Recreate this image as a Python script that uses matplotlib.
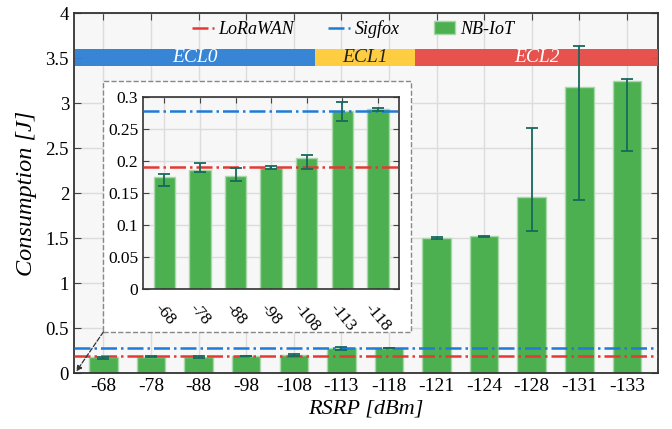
import matplotlib
matplotlib.use("Agg")
import matplotlib.pyplot as plt
from matplotlib.patches import Rectangle
from matplotlib.ticker import FormatStrFormatter
import numpy as np

plt.rcParams["font.family"] = ["Liberation Serif", "DejaVu Serif"]

rsrp = ["-68", "-78", "-88", "-98", "-108", "-113", "-118", "-121", "-124", "-128", "-131", "-133"]
nbiot = [0.175, 0.185, 0.176, 0.189, 0.204, 0.277, 0.280, 1.507, 1.52, 1.956, 3.18, 3.25]
err_low = [0.161, 0.183, 0.169, 0.187, 0.187, 0.262, 0.277, 1.497, 1.51, 1.58, 1.93, 2.47]
err_high = [0.179, 0.196, 0.188, 0.1915, 0.209, 0.292, 0.2825, 1.517, 1.53, 2.72, 3.64, 3.27]
lorawan = 0.191
sigfox = 0.278
ecl_names = ["ECL0", "ECL1", "ECL2"]
ecl_edges = [-0.6, 4.45, 6.55, 11.65]
ecl_colors = ["#2E7FD5", "#FFCB37", "#E64A45"]
ecl_text = ["white", "#222222", "white"]
n_inset = 7

green = "#4CAF50"
bar_edge = "#A8D8AA"
err_col = "#17695C"
red = "#E53935"
blue = "#1E7BD8"

fig = plt.figure(figsize=(6.72, 4.29), dpi=100)
ax = fig.add_axes([0.110, 0.130, 0.869, 0.839])
ax.set_facecolor("#F7F7F7")

x = np.arange(len(rsrp))
vals = np.array(nbiot)
yerr = [vals - np.array(err_low), np.array(err_high) - vals]

ax.axhline(lorawan, color=red, ls="-.", lw=1.8, zorder=3, label="LoRaWAN")
ax.axhline(sigfox, color=blue, ls="-.", lw=1.8, zorder=3, label="Sigfox")
ax.bar(x, vals, width=0.6, color=green, edgecolor=bar_edge, lw=1, zorder=2, label="NB-IoT")
ax.errorbar(x, vals, yerr=yerr, fmt="none", ecolor=err_col, elinewidth=1.3,
            capsize=4, capthick=1.3, zorder=6)

for i, name in enumerate(ecl_names):
    x0, x1 = ecl_edges[i], ecl_edges[i + 1]
    ax.add_patch(Rectangle((x0, 3.41), x1 - x0, 0.19, facecolor=ecl_colors[i],
                           edgecolor="none", alpha=0.95, zorder=4))
    ax.text((x0 + x1) / 2, 3.505, name, ha="center", va="center", style="italic",
            fontsize=14, color=ecl_text[i], zorder=5)

ax.set_xlim(-0.62, 11.65)
ax.set_ylim(0, 4)
ax.set_xticks(x)
ax.set_xticklabels(rsrp, fontsize=14)
ax.set_yticks(np.arange(0, 4.01, 0.5))
ax.yaxis.set_major_formatter(FormatStrFormatter("%g"))
ax.tick_params(axis="y", labelsize=13.5)
ax.tick_params(direction="in", top=True, right=True, length=5, color="#444444")
ax.grid(True, color="#DCDCDC", lw=1, zorder=0)
ax.set_axisbelow(True)
for s in ax.spines.values():
    s.set_color("#333333")
    s.set_linewidth(1.3)
ax.set_xlabel("RSRP [dBm]", fontsize=16, style="italic", labelpad=3)
ax.set_ylabel("Consumption [J]", fontsize=17.5, style="italic", labelpad=6)

leg = ax.legend(loc="center left", bbox_to_anchor=(0.19, 0.956), ncol=3, frameon=False,
                prop={"style": "italic", "size": 13}, handlelength=1.2,
                columnspacing=1.9, handletextpad=0.25, borderaxespad=0)

# white dashed box behind the inset + arrow to the zoomed region
ax.add_patch(Rectangle((0.0, 0.46), 6.47, 2.79, facecolor="white", edgecolor="#888888",
                       ls="--", lw=1, zorder=7))
ax.annotate("", xy=(-0.57, 0.02), xytext=(0.0, 0.46),
            arrowprops=dict(arrowstyle="-|>", ls="--", color="#333333", lw=0.9,
                            shrinkA=0, shrinkB=0, mutation_scale=8), zorder=7)

ins = fig.add_axes([0.213, 0.326, 0.381, 0.449], zorder=10)
ins.set_facecolor("#F7F7F7")
xi = np.arange(n_inset)
vi = vals[:n_inset]
ins.axhline(lorawan, color=red, ls="-.", lw=1.8, zorder=3)
ins.axhline(sigfox, color=blue, ls="-.", lw=1.8, zorder=3)
ins.bar(xi, vi, width=0.6, color=green, edgecolor=bar_edge, lw=1, zorder=2)
ins.errorbar(xi, vi, yerr=[yerr[0][:n_inset], yerr[1][:n_inset]], fmt="none",
             ecolor=err_col, elinewidth=1.3, capsize=4, capthick=1.3, zorder=4)
ins.set_xlim(-0.6, 6.6)
ins.set_ylim(0, 0.3)
ins.set_xticks(xi)
ins.set_xticklabels(rsrp[:n_inset], rotation=-50, fontsize=12.5)
ins.set_yticks(np.arange(0, 0.301, 0.05))
ins.yaxis.set_major_formatter(FormatStrFormatter("%g"))
ins.tick_params(axis="y", labelsize=12.5)
ins.tick_params(axis="x", pad=8)
ins.tick_params(direction="in", top=True, right=True, length=4, color="#444444")
ins.grid(True, color="#DCDCDC", lw=1)
ins.set_axisbelow(True)
for s in ins.spines.values():
    s.set_color("#333333")
    s.set_linewidth(1.2)

fig.savefig("out.png", dpi=100)
